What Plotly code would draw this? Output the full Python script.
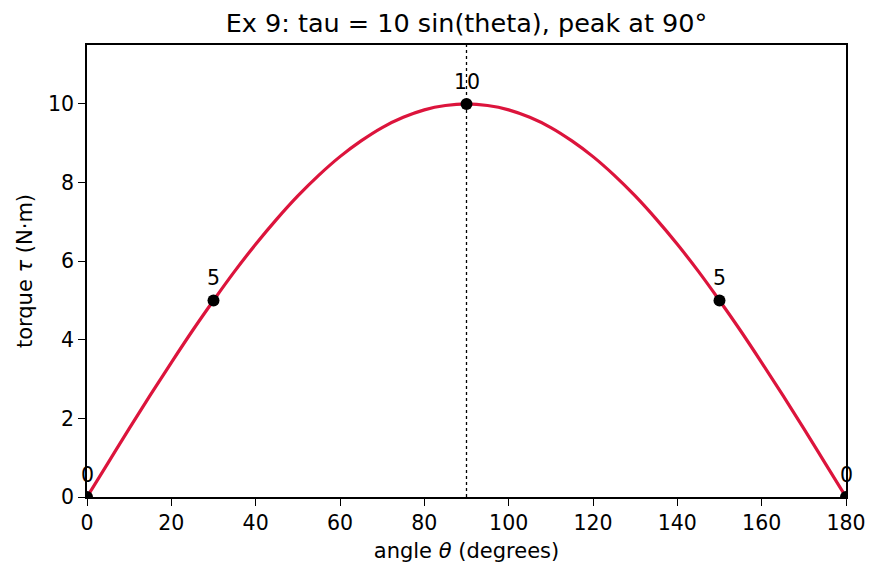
import plotly.graph_objects as go

angle_deg = list(range(0, 181, 5))
torque = [0.0, 0.87, 1.74, 2.59, 3.42, 4.23, 5.00, 5.74, 6.43, 7.07, 7.66, 8.19, 8.66,
          9.06, 9.40, 9.66, 9.85, 9.96, 10.0, 9.96, 9.85, 9.66, 9.40, 9.06, 8.66, 8.19,
          7.66, 7.07, 6.43, 5.74, 5.00, 4.23, 3.42, 2.59, 1.74, 0.87, 0.0]

pt_angle = [0, 30, 90, 150, 180]
pt_torque = [0, 5, 10, 5, 0]
pt_labels = ["0", "5", "10", "5", "0"]

peak_angle = 90

FONT = "DejaVu Sans"
FS = 21
fig = go.Figure()
fig.add_trace(go.Scatter(x=angle_deg, y=torque, mode="lines", line_shape="spline",
                         line=dict(color="#DC143C", width=3.2), showlegend=False))
fig.add_trace(go.Scatter(x=pt_angle, y=pt_torque, mode="markers",
                         marker=dict(color="black", size=12), showlegend=False))
for x, y, t in zip(pt_angle, pt_torque, pt_labels):
    fig.add_annotation(x=x, y=y, text=t, showarrow=False, yshift=22,
                       font=dict(family=FONT, size=FS - 0.5, color="black"))
fig.add_shape(type="line", x0=peak_angle, x1=peak_angle, y0=0, y1=1, yref="paper",
              line=dict(color="black", width=1.3, dash="dot"), layer="below")

axis_common = dict(showline=True, linecolor="black", linewidth=1.6, mirror=True,
                   ticks="outside", ticklen=7, tickwidth=1.4, tickcolor="black",
                   showgrid=False, zeroline=False,
                   tickfont=dict(family=FONT, size=FS - 0.5, color="black"))
fig.update_layout(
    width=880, height=577,
    margin=dict(l=87, r=34, t=45, b=80),
    plot_bgcolor="white", paper_bgcolor="white",
    title=dict(text="Ex 9: tau = 10 sin(theta), peak at 90°", x=0.5, xref="paper", xanchor="center",
               y=0.96, yanchor="middle", font=dict(family=FONT, size=25.5, color="black")),
    xaxis=dict(range=[0, 180], tickvals=list(range(0, 181, 20)),
               title=dict(text="angle <i>θ</i> (degrees)", font=dict(family=FONT, size=FS, color="black"), standoff=9),
               **axis_common),
    yaxis=dict(range=[0, 11.5], tickvals=list(range(0, 11, 2)),
               title=dict(text="torque <i>τ</i> (N·m)", font=dict(family=FONT, size=FS, color="black"), standoff=10),
               **axis_common),
)
fig.write_html("out.html")
